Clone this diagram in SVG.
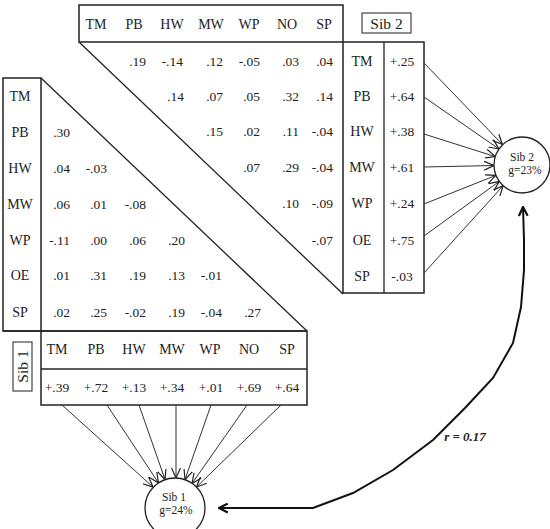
<svg xmlns="http://www.w3.org/2000/svg" width="550" height="529" viewBox="0 0 550 529">
<defs>
<marker id="ah" viewBox="0 0 10 10" refX="10" refY="5" markerWidth="10" markerHeight="10" markerUnits="userSpaceOnUse" orient="auto">
<path d="M0,0.5 L10,5 L0,9.5" fill="none" stroke="#222" stroke-width="1.2"/>
</marker>
<marker id="ahb" viewBox="0 0 10 10" refX="9" refY="5" markerWidth="11" markerHeight="11" markerUnits="userSpaceOnUse" orient="auto-start-reverse">
<path d="M1,1 L9,5 L1,9" fill="none" stroke="#111" stroke-width="2"/>
</marker>
<style>
text{font-family:"Liberation Serif","Times New Roman",serif;fill:#222}
.h{font-size:14px;text-anchor:middle}
.v{font-size:13.5px;text-anchor:end}
.vc{font-size:13.5px;text-anchor:middle}
.lab{font-size:15.5px;text-anchor:middle}
.cn{font-size:11.5px;text-anchor:middle}
.box{fill:none;stroke:#222;stroke-width:1.5}
.ln{fill:none;stroke:#222;stroke-width:1.3}
.arr{fill:none;stroke:#333;stroke-width:1;marker-end:url(#ah)}
.corr{fill:none;stroke:#111;stroke-width:2;marker-start:url(#ahb);marker-end:url(#ahb)}
</style>
</defs>
<rect width="550" height="529" fill="#fff"/>

<g id="sib2-matrix">
<rect class="box" x="79" y="5" width="264" height="37"/>
<line class="ln" x1="79" y1="42" x2="343" y2="294"/>
<text class="h" x="96" y="29">TM</text>
<text class="h" x="134" y="29">PB</text>
<text class="h" x="172" y="29">HW</text>
<text class="h" x="211" y="29">MW</text>
<text class="h" x="249" y="29">WP</text>
<text class="h" x="287" y="29">NO</text>
<text class="h" x="324" y="29">SP</text>
<text class="v" x="146" y="66">.19</text><text class="v" x="183" y="66">-.14</text><text class="v" x="223" y="66">.12</text><text class="v" x="260" y="66">-.05</text><text class="v" x="299" y="66">.03</text><text class="v" x="333" y="66">.04</text>
<text class="v" x="184" y="101">.14</text><text class="v" x="223" y="101">.07</text><text class="v" x="260" y="101">.05</text><text class="v" x="299" y="101">.32</text><text class="v" x="333" y="101">.14</text>
<text class="v" x="223" y="136">.15</text><text class="v" x="260" y="136">.02</text><text class="v" x="299" y="136">.11</text><text class="v" x="333" y="136">-.04</text>
<text class="v" x="260" y="172">.07</text><text class="v" x="299" y="172">.29</text><text class="v" x="333" y="172">-.04</text>
<text class="v" x="299" y="208">.10</text><text class="v" x="333" y="208">-.09</text>
<text class="v" x="333" y="245">-.07</text>
</g>

<g id="sib2-loadings">
<rect class="box" x="343" y="42" width="81" height="251"/>
<line class="ln" x1="384" y1="42" x2="384" y2="293"/>
<text class="h" x="362" y="66">TM</text><text class="vc" x="402" y="66">+.25</text>
<text class="h" x="362" y="101">PB</text><text class="vc" x="402" y="101">+.64</text>
<text class="h" x="362" y="136">HW</text><text class="vc" x="402" y="136">+.38</text>
<text class="h" x="362" y="172">MW</text><text class="vc" x="402" y="172">+.61</text>
<text class="h" x="362" y="208">WP</text><text class="vc" x="402" y="208">+.24</text>
<text class="h" x="362" y="245">OE</text><text class="vc" x="402" y="245">+.75</text>
<text class="h" x="362" y="281">SP</text><text class="vc" x="402" y="281">-.03</text>
</g>

<g id="sib2-label">
<rect x="362" y="13" width="49" height="20" fill="none" stroke="#444" stroke-width="1.2"/>
<text class="lab" x="386.5" y="28.5">Sib 2</text>
</g>

<g id="sib1-matrix">
<rect class="box" x="3" y="78" width="38" height="253"/>
<line class="ln" x1="41" y1="78" x2="307" y2="331"/>
<line class="ln" x1="3" y1="331" x2="307" y2="331"/>
<text class="h" x="20" y="101">TM</text>
<text class="h" x="20" y="137">PB</text>
<text class="h" x="20" y="173">HW</text>
<text class="h" x="20" y="209">MW</text>
<text class="h" x="20" y="245">WP</text>
<text class="h" x="20" y="280">OE</text>
<text class="h" x="20" y="317">SP</text>
<text class="v" x="70" y="137">.30</text>
<text class="v" x="70" y="173">.04</text><text class="v" x="107" y="173">-.03</text>
<text class="v" x="70" y="209">.06</text><text class="v" x="107" y="209">.01</text><text class="v" x="146" y="209">-.08</text>
<text class="v" x="70" y="245">-.11</text><text class="v" x="107" y="245">.00</text><text class="v" x="146" y="245">.06</text><text class="v" x="185" y="245">.20</text>
<text class="v" x="70" y="280">.01</text><text class="v" x="107" y="280">.31</text><text class="v" x="146" y="280">.19</text><text class="v" x="185" y="280">.13</text><text class="v" x="222" y="280">-.01</text>
<text class="v" x="70" y="317">.02</text><text class="v" x="107" y="317">.25</text><text class="v" x="146" y="317">-.02</text><text class="v" x="185" y="317">.19</text><text class="v" x="222" y="317">-.04</text><text class="v" x="261" y="317">.27</text>
</g>

<g id="sib1-loadings">
<rect class="box" x="41" y="331" width="266" height="74"/>
<line class="ln" x1="41" y1="369" x2="307" y2="369"/>
<text class="h" x="57" y="354">TM</text>
<text class="h" x="96" y="354">PB</text>
<text class="h" x="134" y="354">HW</text>
<text class="h" x="172" y="354">MW</text>
<text class="h" x="210" y="354">WP</text>
<text class="h" x="249" y="354">NO</text>
<text class="h" x="287" y="354">SP</text>
<text class="vc" x="57" y="392">+.39</text>
<text class="vc" x="96" y="392">+.72</text>
<text class="vc" x="134" y="392">+.13</text>
<text class="vc" x="172" y="392">+.34</text>
<text class="vc" x="211" y="392">+.01</text>
<text class="vc" x="249" y="392">+.69</text>
<text class="vc" x="287" y="392">+.64</text>
</g>

<g id="sib1-label">
<rect x="13" y="342" width="19" height="49" fill="none" stroke="#444" stroke-width="1.2"/>
<text class="lab" transform="translate(28,366.5) rotate(-90)" x="0" y="0">Sib 1</text>
</g>

<g id="sib1-factor">
<circle cx="175" cy="508" r="30" fill="#fff" stroke="#222" stroke-width="1.3"/>
<text class="cn" x="174" y="501">Sib 1</text>
<text class="cn" x="176" y="514">g=24%</text>
</g>

<g id="sib2-factor">
<circle cx="522" cy="165" r="28" fill="#fff" stroke="#222" stroke-width="1.3"/>
<text class="cn" x="522" y="161">Sib 2</text>
<text class="cn" x="525" y="174">g=23%</text>
</g>

<g id="connectors">
<line class="arr" x1="62" y1="405" x2="153" y2="487"/>
<line class="arr" x1="107" y1="405" x2="158.5" y2="483"/>
<line class="arr" x1="139" y1="405" x2="165" y2="479.5"/>
<line class="arr" x1="176" y1="405" x2="176" y2="478"/>
<line class="arr" x1="211" y1="405" x2="185" y2="479.5"/>
<line class="arr" x1="247" y1="405" x2="192" y2="483.5"/>
<line class="arr" x1="281" y1="405" x2="196.5" y2="487"/>

<line class="arr" x1="424" y1="63" x2="502.5" y2="144.5"/>
<line class="arr" x1="424" y1="97" x2="499" y2="149"/>
<line class="arr" x1="424" y1="134" x2="495.3" y2="156.6"/>
<line class="arr" x1="424" y1="167" x2="494" y2="165.5"/>
<line class="arr" x1="424" y1="204" x2="496" y2="175.3"/>
<line class="arr" x1="424" y1="236" x2="499.3" y2="181.4"/>
<line class="arr" x1="424" y1="273" x2="503.2" y2="185.7"/>

<polyline class="corr" points="219,508 313,508 353,493 393,470 433,440 465,408 493,378 513,343 521,307 524,270 524,240 523,207"/>
<text x="465" y="441" font-size="13" font-weight="bold" font-style="italic" text-anchor="middle">r = 0.17</text>
</g>
</svg>
